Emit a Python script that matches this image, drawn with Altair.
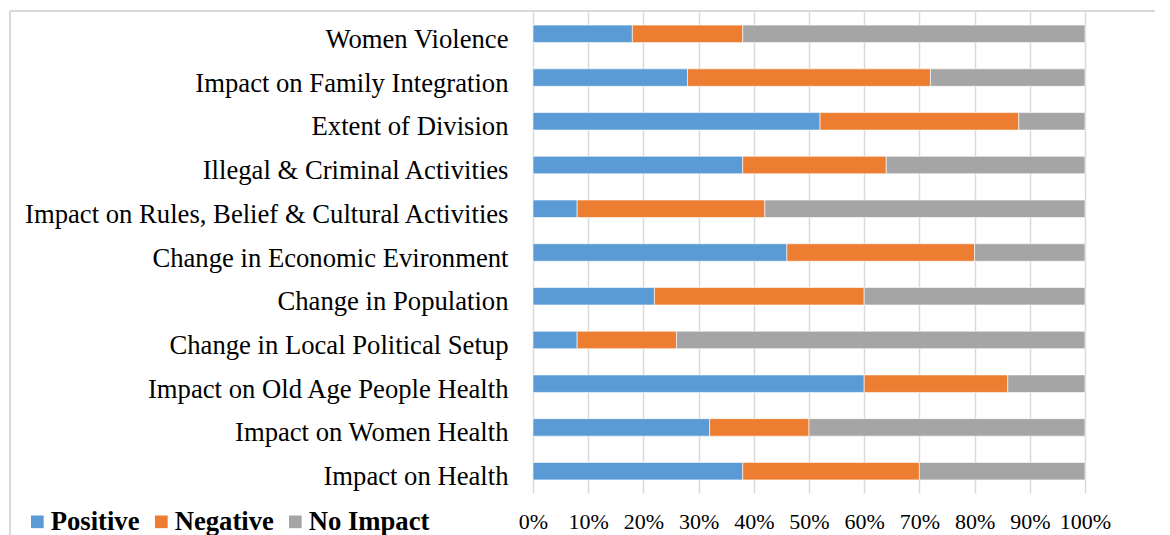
import altair as alt
import pandas as pd

categories = [
    "Women Violence",
    "Impact on Family Integration",
    "Extent of Division",
    "Illegal & Criminal Activities",
    "Impact on Rules, Belief & Cultural Activities",
    "Change in Economic Evironment\u00a0",
    "Change in Population",
    "Change in Local Political Setup",
    "Impact on Old Age People Health",
    "Impact on Women Health",
    "Impact on Health",
]
positive = [18, 28, 52, 38, 8, 46, 22, 8, 60, 32, 38]
negative = [20, 44, 36, 26, 34, 34, 38, 18, 26, 18, 32]
no_impact = [62, 28, 12, 36, 58, 20, 40, 74, 14, 50, 30]
series = ["Positive", "Negative", "No Impact"]
colors = ["#5B9BD5", "#ED7D31", "#A5A5A5"]
tick_values = [i / 10 for i in range(11)]

rows = []
for i, cat in enumerate(categories):
    for k, (name, vals) in enumerate(zip(series, [positive, negative, no_impact])):
        rows.append({"category": cat, "series": name, "value": vals[i], "order": k})
df = pd.DataFrame(rows)

FONT = "Liberation Serif"
GRID = "#d9d9d9"
BIG = 26.67

bars = alt.Chart(df).mark_bar(stroke="white", strokeWidth=0.6).encode(
    y=alt.Y(
        "category:N",
        sort=categories,
        title=None,
        scale=alt.Scale(paddingInner=0.6, paddingOuter=0.3),
        axis=alt.Axis(
            domain=False, ticks=False, labelPadding=25, labelFont=FONT,
            labelFontSize=BIG, labelColor="#000000", labelLimit=700,
            labelOffset=6,
        ),
    ),
    x=alt.X(
        "value:Q",
        stack="normalize",
        title=None,
        scale=alt.Scale(domain=[0, 1], nice=False),
        axis=alt.Axis(
            values=tick_values, format=".0%", domain=False, ticks=False,
            grid=True, gridColor=GRID, gridWidth=1.5, labelPadding=18,
            labelFont=FONT, labelFontSize=22, labelColor="#000000",
            labelFlush=False,
        ),
    ),
    color=alt.Color(
        "series:N",
        sort=series,
        scale=alt.Scale(domain=series, range=colors),
        legend=alt.Legend(
            title=None, orient="none", direction="horizontal",
            legendX=-509, legendY=496, padding=0,
            symbolType="square", symbolSize=160, symbolStrokeWidth=0,
            labelFont=FONT, labelFontSize=BIG, labelFontWeight="bold",
            labelColor="#000000", labelOffset=0, columnPadding=8,
            labelLimit=300,
        ),
    ),
    order=alt.Order("order:Q"),
)

border_data = alt.Data(values=[{"k": 1}])
top_line = alt.Chart(border_data).mark_rule(color=GRID, strokeWidth=2).encode(
    x=alt.value(-523), x2=alt.value(700), y=alt.value(-1)
)
left_line = alt.Chart(border_data).mark_rule(color=GRID, strokeWidth=2).encode(
    x=alt.value(-523), y=alt.value(-1), y2=alt.value(600)
)

chart = alt.layer(bars, top_line, left_line).properties(
    width=552,
    height=481,
    autosize=alt.AutoSizeParams(type="none"),
    padding={"left": 525, "top": 4, "right": 70, "bottom": 46},
).configure_view(stroke=None)

chart.save("out.html", embed_options={"renderer": "svg", "actions": False})
